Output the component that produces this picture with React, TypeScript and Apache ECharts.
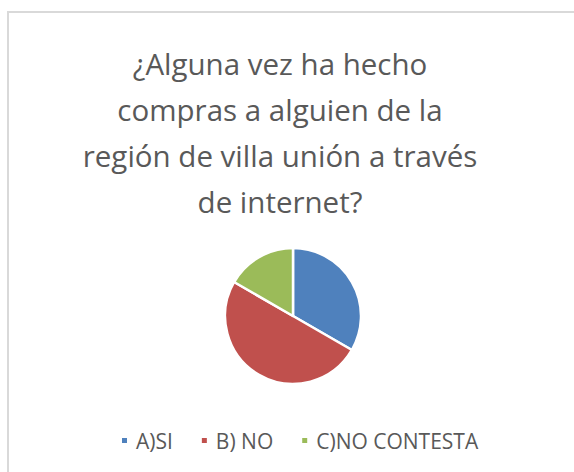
import React, { useEffect, useRef } from "react";
import * as echarts from "echarts";

const categories = ["A)SI", "B) NO", "C)NO CONTESTA"];
const values = [6, 9, 3];
const colors = ["#4F81BD", "#C0504D", "#9BBB59"];
const titleText = "¿Alguna vez ha hecho\ncompras a alguien de la\nregión de villa unión a través\nde internet?";

export default function App() {
  const ref = useRef<HTMLDivElement>(null);
  useEffect(() => {
    const chart = echarts.init(ref.current!, null, { renderer: "svg" });
    chart.setOption({
      animation: false,
      backgroundColor: "#ffffff",
      title: {
        text: titleText,
        left: 275,
        top: 35,
        textAlign: "center",
        textStyle: {
          fontFamily: "Open Sans",
          fontSize: 29.5,
          fontWeight: "normal",
          color: "#595959",
          lineHeight: 46,
        },
      },
      legend: {
        data: categories,
        left: 120,
        top: 430,
        padding: 0,
        itemWidth: 7,
        itemHeight: 7,
        itemGap: 27,
        icon: "rect",
        textStyle: { fontFamily: "Open Sans", fontSize: 21, color: "#595959", padding: [0, 0, 0, 3] },
      },
      graphic: [
        {
          type: "rect",
          shape: { x: 8, y: 12, width: 700, height: 600 },
          style: { fill: "none", stroke: "#d9d9d9", lineWidth: 2 },
          silent: true,
        },
      ],
      series: [
        {
          type: "pie",
          center: [293, 316],
          radius: 68,
          startAngle: 90,
          clockwise: true,
          label: { show: false },
          labelLine: { show: false },
          itemStyle: { borderColor: "#ffffff", borderWidth: 2.5 },
          data: categories.map((c, i) => ({ name: c, value: values[i], itemStyle: { color: colors[i] } })),
        },
      ],
    });
    return () => chart.dispose();
  }, []);
  return <div ref={ref} style={{ position: "absolute", left: 0, top: 0, width: 574, height: 472 }} />;
}
